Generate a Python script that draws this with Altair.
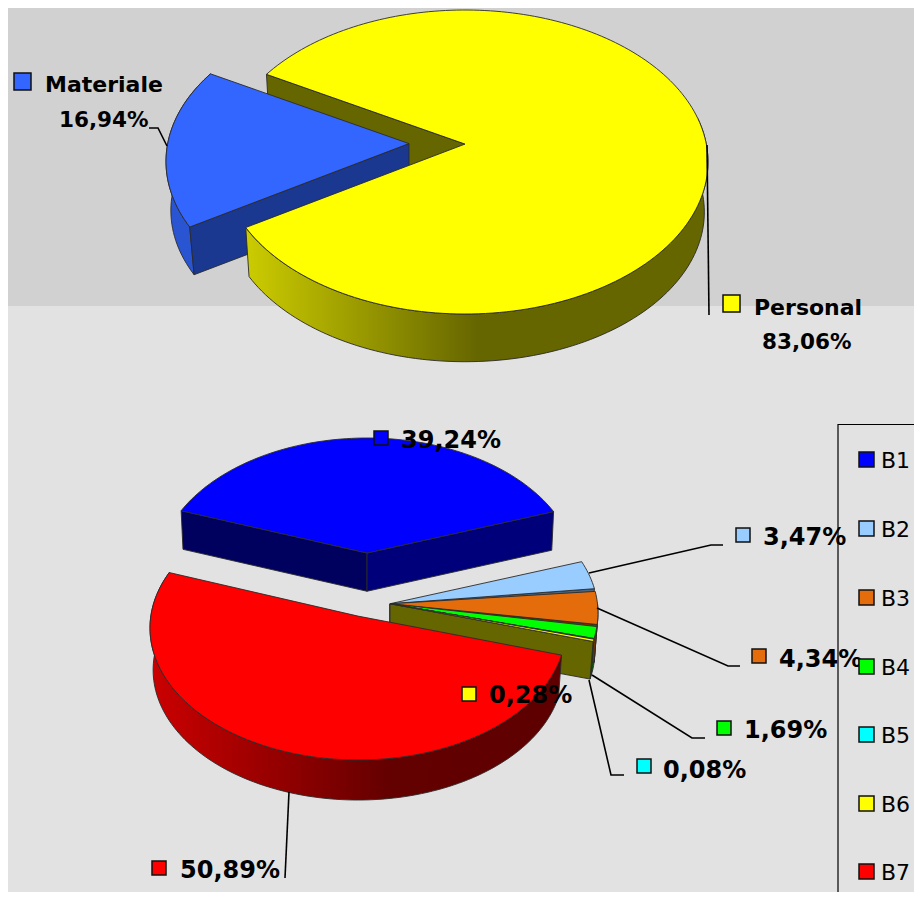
import math
import altair as alt

# ---- chart values ----
top_names = ["Materiale", "Personal"]
top_shares = [16.94, 83.06]
top_labels = ["16,94%", "83,06%"]
top_colors = ["#3366FF", "#FFFF00"]
bottom_names = ["B1", "B2", "B3", "B4", "B5", "B6", "B7"]
bottom_shares = [39.24, 3.47, 4.34, 1.69, 0.08, 0.28, 50.89]
bottom_labels = ["39,24%", "3,47%", "4,34%", "1,69%", "0,08%", "0,28%", "50,89%"]
bottom_colors = ["#0000FF", "#99CCFF", "#E46C0A", "#00FF00", "#00FFFF", "#FFFF00", "#FF0000"]
end_wall_colors = ["#00007A", "#4C667F", "#713407", "#006000", "#006666", "#666600", "#660000"]

W, H = 906, 884
OFF = 8
FONT = "DejaVu Sans"
EDGE = "#2a2a2a"
# A fixed frame feature pins the projection to page pixels (scale 1, no shift).
FRAME = {"type": "Feature", "properties": {}, "geometry": {
    "type": "Polygon",
    "coordinates": [[[0, 0], [W, 0], [W, H], [0, H], [0, 0]]]}}
PROJ = dict(type="identity", fit=FRAME)


def wedge(cx, cy, rx, ry, a, depth, s):
    return dict(cx=cx, cy=cy, rx=rx, ry=ry, a=a, depth=depth, s=s)


def pt(w, theta, low=False):
    t = math.radians(theta)
    u, v = math.cos(t), math.sin(t)
    d = 1 - w["a"] * v
    X = math.sqrt(1 - w["a"] ** 2) * u / d
    Y = (v - w["a"]) / d
    s, dz = (w["s"], w["depth"]) if low else (1, 0)
    return [w["cx"] + s * w["rx"] * X - OFF, w["cy"] + dz + s * w["ry"] * Y - OFF]


def apex(w, low=False):
    s, dz = (w["s"], w["depth"]) if low else (1, 0)
    return [w["cx"] - OFF, w["cy"] + dz - s * w["a"] * w["ry"] - OFF]


def arc(w, t0, t1, low=False):
    n = max(2, int(abs(t1 - t0) / 1.5) + 1)
    return [pt(w, t0 + (t1 - t0) * i / n, low) for i in range(n + 1)]


layers = []


def poly(ring, fill, stroke=EDGE, sw=0.9):
    ring = ring + [ring[0]]
    feat = {"type": "Feature", "properties": {},
            "geometry": {"type": "Polygon", "coordinates": [ring]}}
    layers.append(alt.Chart(alt.Data(values=[feat])).mark_geoshape(
        fill=fill, stroke=stroke, strokeWidth=sw).project(**PROJ))


def line(points, sw=1.6):
    pts = [[x - OFF, y - OFF] for x, y in points]
    feat = {"type": "Feature", "properties": {},
            "geometry": {"type": "LineString", "coordinates": pts}}
    layers.append(alt.Chart(alt.Data(values=[feat])).mark_geoshape(
        filled=False, stroke="black", strokeWidth=sw).project(**PROJ))


def face(w, t0, t1, color):
    poly([apex(w)] + arc(w, t0, t1), color)


def end_wall(w, t, color):
    poly([apex(w), pt(w, t), pt(w, t, True), apex(w, True)], color)


def rim(w, t0, t1, color):
    poly(arc(w, t0, t1) + arc(w, t1, t0, True), color)


def grad(stops):
    return alt.LinearGradient(
        gradient="linear", x1=0, x2=1, y1=0, y2=0,
        stops=[alt.GradientStop(offset=o, color=c) for o, c in stops])


def box(x, y, color, size=15, sw=1.5):
    poly([[x - OFF, y - OFF], [x + size - OFF, y - OFF],
          [x + size - OFF, y + size - OFF], [x - OFF, y + size - OFF]],
         color, "#111111", sw)


def text(rows, weight="bold", size=24, align="left"):
    layers.append(alt.Chart(alt.Data(values=[
        {"lon": x - OFF, "lat": y - OFF, "t": t} for x, y, t in rows
    ])).mark_text(font=FONT, fontWeight=weight, fontSize=size, align=align,
                  baseline="alphabetic", color="black").encode(
        longitude="lon:Q", latitude="lat:Q", text="t:N").project(**PROJ))


# ---- backdrop ----
poly([[0, 0], [W, 0], [W, 306 - OFF], [0, 306 - OFF]], "#D1D1D1", "#D1D1D1", 0)

# ---- upper pie ----
deg_top = [v * 3.6 for v in top_shares]
t_start = 148.5
blue_end = t_start + deg_top[0]
yellow_end = blue_end + deg_top[1]
Wy = wedge(465, 162, 243, 152, 0.118, 50, 0.985)
Wb = wedge(409, 161.5, 243, 152, 0.118, 49, 0.98)

end_wall(Wy, blue_end, "#666600")
rim(Wb, t_start, blue_end, "#2A55D2")
end_wall(Wb, t_start, "#1A388F")
face(Wb, t_start, blue_end, top_colors[0])
rim(Wy, 350, yellow_end, grad([(0, "#CCCC00"), (0.5, "#666600"), (1, "#666600")]))
face(Wy, blue_end, yellow_end, top_colors[1])

# ---- lower pie ----
deg = [v * 3.6 for v in bottom_shares]
start = 199.6
angles = [start]
for v in deg:
    angles.append(angles[-1] + v)

Wblue = wedge(367, 574, 210, 136, 0.154, 38, 0.99)
Wsmall = wedge(390, 613, 208, 132, 0.07, 38, 0.985)
Wred = wedge(358, 628, 208, 132, 0.09, 42, 0.985)

end_wall(Wblue, angles[0], "#00005F")
end_wall(Wblue, angles[1], end_wall_colors[0])
face(Wblue, angles[0], angles[1], bottom_colors[0])

gaps = [0, 0, 1.2, 0.9, 0, 0]
rim(Wsmall, 360, angles[3], "#713407")
rim(Wsmall, angles[3], angles[6], "#006000")
for i in range(1, 4):
    end_wall(Wsmall, angles[i + 1], end_wall_colors[i])
    face(Wsmall, angles[i] + gaps[i], angles[i + 1], bottom_colors[i])
face(Wsmall, angles[4], angles[5], bottom_colors[4])
end_wall(Wsmall, angles[6], end_wall_colors[5])
face(Wsmall, angles[5], angles[6], bottom_colors[5])

red_start = angles[6] - 360 + 0.5
red_end = red_start + deg[6]
rim(Wred, red_start, red_end, grad([(0, "#CC0000"), (0.58, "#640000"), (1, "#5E0000")]))
face(Wred, red_start, red_end, bottom_colors[6])

# ---- leader lines ----
line([(149, 128), (158, 128), (167, 146)])
line([(707, 145), (709, 315)])
line([(589, 573), (711, 545), (723, 545)])
line([(597, 608), (728, 666), (740, 666)])
line([(592, 675), (692, 738), (705, 738)])
line([(589, 680), (611, 775), (624, 775)])
line([(289, 792), (285, 878)])

# ---- legend frame ----
line([(838, 892), (838, 424.5), (914, 424.5)], 1.2)

# ---- value labels ----
text([(45, 92, top_names[0])], size=22)
text([(754, 315, top_names[1])], size=22)
text([(59, 127, top_labels[0]), (762, 349, top_labels[1])], size=21.5)
box(14, 73, top_colors[0], 17)
box(723, 295, top_colors[1], 17)

label_at = [(401, 448), (763, 545), (779, 667), (744, 738), (663, 778), (489, 703), (180, 878)]
box_at = [(374, 431), (736, 528), (752, 649), (717, 721), (637, 759), (462, 687), (152, 861)]
text([(x, y, t) for (x, y), t in zip(label_at, bottom_labels)])
for (x, y), c in zip(box_at, bottom_colors):
    box(x, y, c, 14)

# ---- legend entries ----
legend_y = [452, 521, 590, 659, 727, 796, 864]
text([(881, y + 16, n) for y, n in zip(legend_y, bottom_names)], weight="normal", size=22)
for y, c in zip(legend_y, bottom_colors):
    box(859, y, c, 15)

chart = alt.layer(*layers).properties(
    width=W, height=H, padding=0, background="#E2E2E2",
    autosize=alt.AutoSizeParams(type="none"),
).configure_view(stroke=None)

chart.save("out.html", embed_options={"renderer": "svg", "actions": False})
